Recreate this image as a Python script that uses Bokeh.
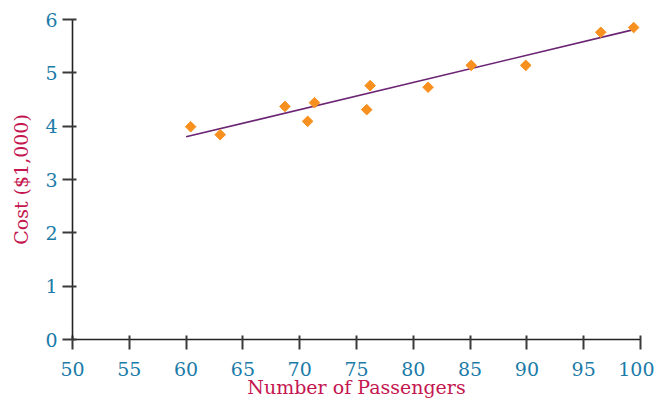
from bokeh.plotting import figure
from bokeh.embed import file_html
from bokeh.resources import INLINE
from bokeh.models import Range1d, FixedTicker

passengers = [60.4, 63.0, 68.7, 70.7, 71.3, 75.9, 76.2, 81.3, 85.1, 89.9, 96.5, 99.4]
cost = [3.99, 3.84, 4.37, 4.09, 4.44, 4.31, 4.76, 4.73, 5.14, 5.14, 5.76, 5.85]
fit_x = [60.0, 99.4]
fit_y = [3.80, 5.81]
x_ticks = [50, 55, 60, 65, 70, 75, 80, 85, 90, 95, 100]
y_ticks = [0, 1, 2, 3, 4, 5, 6]

p = figure(width=654, height=393, output_backend="svg", toolbar_location=None,
           x_range=Range1d(50, 100), y_range=Range1d(0, 6),
           min_border_left=72, min_border_right=14, min_border_top=19, min_border_bottom=54)
p.frame_width = 568
p.frame_height = 320
p.outline_line_color = None
p.xgrid.visible = False
p.ygrid.visible = False

p.line(fit_x, fit_y, line_color="#6b2473", line_width=1.6)
p.scatter(passengers, cost, marker="square", angle=0.785398, size=7.5,
          fill_color="#f7901e", line_color="#f7901e")

font = "DejaVu Serif"
p.xaxis.ticker = FixedTicker(ticks=x_ticks, minor_ticks=[])
p.yaxis.ticker = FixedTicker(ticks=y_ticks, minor_ticks=[])
p.axis.axis_line_color = "#222222"
p.axis.axis_line_width = 1.6
p.axis.major_tick_line_color = "#3a3a3a"
p.axis.major_tick_line_width = 2
p.axis.major_tick_out = 10
p.axis.major_tick_in = 4
p.axis.major_label_text_font = font
p.axis.major_label_text_font_size = "19px"
p.axis.major_label_text_color = "#1b7ba8"
p.axis.axis_label_text_font = font
p.axis.axis_label_text_font_size = "19px"
p.axis.axis_label_text_color = "#c4164f"
p.axis.axis_label_text_font_style = "normal"

p.xaxis.axis_label = "Number of Passengers"
p.yaxis.axis_label = "Cost ($1,000)"
p.xaxis.major_label_standoff = 12
p.yaxis.major_label_standoff = 5
p.xaxis.axis_label_standoff = -3
p.yaxis.axis_label_standoff = 10

open("out.html", "w").write(file_html(p, INLINE))
